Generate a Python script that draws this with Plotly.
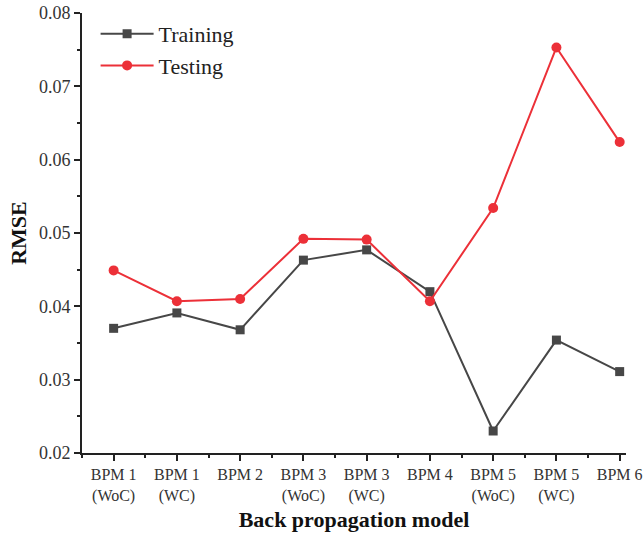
import plotly.graph_objects as go

categories = ["BPM 1<br>(WoC)", "BPM 1<br>(WC)", "BPM 2", "BPM 3<br>(WoC)", "BPM 3<br>(WC)",
              "BPM 4", "BPM 5<br>(WoC)", "BPM 5<br>(WC)", "BPM 6"]
training = [0.0370, 0.0391, 0.0368, 0.0463, 0.0477, 0.0420, 0.0230, 0.0354, 0.0311]
testing = [0.0449, 0.0407, 0.0410, 0.0492, 0.0491, 0.0407, 0.0534, 0.0753, 0.0624]
y_ticks = [0.02, 0.03, 0.04, 0.05, 0.06, 0.07, 0.08]

xpos = list(range(len(categories)))
font = "Liberation Serif, Times New Roman, serif"

fig = go.Figure()
fig.add_trace(go.Scatter(x=xpos, y=training, name="Training", mode="lines+markers",
                         line=dict(color="#474747", width=2),
                         marker=dict(symbol="square", size=9, color="#474747")))
fig.add_trace(go.Scatter(x=xpos, y=testing, name="Testing", mode="lines+markers",
                         line=dict(color="#ec3038", width=2),
                         marker=dict(symbol="circle", size=10, color="#ec3038")))

fig.update_layout(
    width=643, height=533,
    margin=dict(l=82, r=17, t=13, b=80, autoexpand=False),
    paper_bgcolor="white", plot_bgcolor="white",
    font=dict(family=font, color="#222"),
    showlegend=True,
    legend=dict(x=0.025, y=1.0, xanchor="left", yanchor="top",
                bgcolor="rgba(0,0,0,0)", font=dict(size=22, family=font, color="#222"),
                tracegroupgap=0, itemwidth=53),
    xaxis=dict(
        automargin=False,
        range=[-0.5, 8.1], tickmode="array", tickvals=xpos, ticktext=categories,
        showline=True, linecolor="#222", linewidth=2, showgrid=False, zeroline=False,
        ticks="outside", ticklen=6, tickwidth=1.5, tickcolor="#222",
        tickfont=dict(size=16, family=font, color="#333"),
        minor=dict(tickmode="array", tickvals=[i + 0.5 for i in range(-1, 8)],
                   ticks="outside", ticklen=3, tickcolor="#222", showgrid=False),
        title=dict(text="<b>Back propagation model</b>", font=dict(size=22, family=font, color="#111"),
                   standoff=8),
    ),
    yaxis=dict(
        automargin=False,
        range=[0.02, 0.08], tickmode="array", tickvals=y_ticks,
        ticktext=[f"{v:.2f}" for v in y_ticks],
        showline=True, linecolor="#222", linewidth=2, showgrid=False, zeroline=False,
        ticks="outside", ticklen=6, tickwidth=1.5, tickcolor="#222",
        tickfont=dict(size=18, family=font, color="#333"),
        minor=dict(dtick=0.005, tick0=0.02, ticks="outside", ticklen=3, tickcolor="#222", showgrid=False),
        title=dict(text="<b>RMSE</b>", font=dict(size=22, family=font, color="#111"), standoff=6),
    ),
)

fig.write_html("out.html")
